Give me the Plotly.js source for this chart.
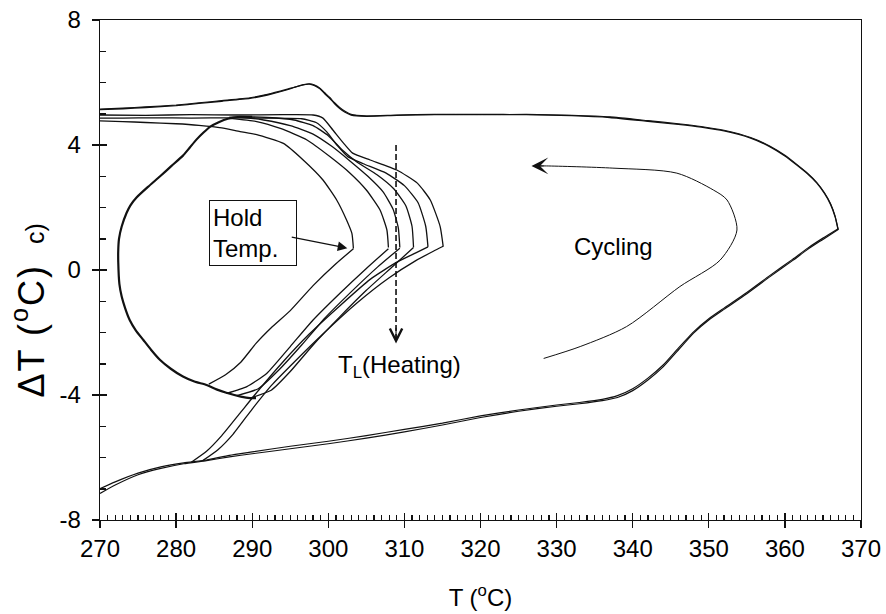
<!DOCTYPE html>
<html>
<head>
<meta charset="utf-8">
<script src="https://cdn.plot.ly/plotly-3.0.1.min.js"></script>
<style>html,body{margin:0;padding:0;background:#fff;}#chart{width:886px;height:614px;}</style>
</head>
<body>
<div id="chart"></div>
<script>
// ---- Outer cycle (heating to 367 °C, two passes) ----
const heatX  = [270, 272, 275, 278, 281, 284, 287, 290, 295, 300, 305, 310, 315, 320, 325, 330, 333, 336, 338, 340, 342, 344, 346, 348, 350, 352, 355, 358, 361, 363, 365, 367];
const heatY1 = [-7.15, -6.88, -6.55, -6.35, -6.2, -6.1, -5.98, -5.88, -5.72, -5.56, -5.38, -5.18, -4.96, -4.72, -4.52, -4.36, -4.28, -4.18, -4.08, -3.86, -3.52, -3.1, -2.56, -2.02, -1.6, -1.26, -0.76, -0.22, 0.3, 0.66, 0.98, 1.3];
const heatY2 = [-7.0, -6.78, -6.5, -6.3, -6.17, -6.08, -5.93, -5.82, -5.64, -5.48, -5.3, -5.1, -4.9, -4.67, -4.48, -4.32, -4.24, -4.14, -4.02, -3.8, -3.46, -3.04, -2.5, -1.98, -1.56, -1.22, -0.72, -0.18, 0.34, 0.7, 1.02, 1.32];
// ---- Outer cycle cooling (two passes) ----
const coolX  = [367, 366.6, 366, 365.2, 364.2, 363, 361.6, 360, 358, 355.5, 352, 349, 346, 342, 337, 332, 326, 320, 314, 309, 305, 303, 302.2, 301.5, 300.8, 300.2, 299.5, 298.9, 298.2, 297.5, 296.7, 295.5, 294.5, 292, 289.7, 286, 283, 280, 276, 273, 270];
const coolY1 = [1.28, 1.7, 2.1, 2.45, 2.78, 3.07, 3.35, 3.65, 3.95, 4.22, 4.45, 4.57, 4.66, 4.76, 4.88, 4.94, 4.97, 4.98, 4.97, 4.95, 4.92, 4.96, 5.05, 5.17, 5.33, 5.49, 5.65, 5.8, 5.9, 5.95, 5.93, 5.84, 5.76, 5.6, 5.49, 5.4, 5.33, 5.26, 5.2, 5.16, 5.13];
const coolY2 = [1.3, 1.72, 2.12, 2.47, 2.8, 3.09, 3.37, 3.67, 3.97, 4.24, 4.47, 4.59, 4.68, 4.78, 4.9, 4.95, 4.98, 4.97, 4.98, 4.96, 4.93, 4.98, 5.08, 5.2, 5.36, 5.52, 5.68, 5.82, 5.92, 5.96, 5.92, 5.85, 5.78, 5.62, 5.51, 5.42, 5.35, 5.28, 5.22, 5.18, 5.15];
// ---- Undercooling / recalescence loop ----
const circleX = [290, 288.4, 286.8, 285.6, 284.5, 283.6, 282.7, 281.8, 280.9, 279.4, 277.9, 276.3, 274.8, 274.0, 273.5, 272.85, 272.5, 272.4, 272.4, 272.55, 272.85, 273.3, 273.9, 274.7, 275.7, 276.7, 277.9, 279.3, 280.9, 282.4, 284, 285.3, 286.6, 288.5, 289.7, 290.5];
const circleY = [4.9, 4.9, 4.84, 4.73, 4.59, 4.4, 4.18, 3.92, 3.66, 3.33, 3.0, 2.66, 2.32, 2.07, 1.83, 1.39, 1.0, 0.64, 0.25, -0.45, -0.85, -1.22, -1.6, -1.93, -2.24, -2.55, -2.88, -3.16, -3.41, -3.57, -3.68, -3.82, -3.93, -4.05, -4.1, -4.1];
// ---- Hold-temperature loops: heating arcs (to hold temp) ----
const heatArc1X = [284.3, 286.5, 288.5, 290.5, 292.5, 295, 298, 301, 303.3];
const heatArc1Y = [-3.65, -3.35, -2.95, -2.35, -1.85, -1.3, -0.5, 0.2, 0.68];
const heatArc2X = [286.6, 289.3, 291.9, 295, 298, 301.5, 305, 307.9];
const heatArc2Y = [-3.95, -3.73, -3.31, -2.45, -1.6, -0.75, 0.05, 0.68];
const heatArc3X = [288, 290.8, 293.5, 296.5, 299.5, 303, 306.5, 309.4];
const heatArc3Y = [-4.02, -3.8, -3.2, -2.4, -1.55, -0.7, 0.1, 0.7];
const heatArc4X = [289.7, 292.5, 295, 298, 301.5, 305, 308.5, 311.2];
const heatArc4Y = [-4.1, -3.85, -3.25, -2.4, -1.5, -0.65, 0.12, 0.72];
const heatArc5X = [282, 284, 286, 288.5, 291, 294, 297.5, 301.5, 305.5, 309, 311.5, 313.1];
const heatArc5Y = [-6.15, -5.8, -5.3, -4.55, -3.8, -2.95, -2.05, -1.15, -0.3, 0.25, 0.55, 0.74];
const heatArc6X = [283.5, 285.5, 287.5, 290, 292.5, 295.5, 299.5, 303.8, 308, 311.5, 313.8, 315.1];
const heatArc6Y = [-6.1, -5.75, -5.25, -4.45, -3.7, -2.95, -2.0, -1.05, -0.25, 0.3, 0.6, 0.76];
// ---- Hold-temperature loops: cooling arcs (from hold temp) ----
const coolArc1X = [303.3, 303.1, 302.4, 301.1, 299.3, 296.7, 294.1, 290.6, 288.4, 286, 283, 280, 276, 273, 270];
const coolArc1Y = [0.69, 1.17, 1.6, 2.24, 2.88, 3.52, 4.05, 4.33, 4.43, 4.55, 4.63, 4.68, 4.72, 4.75, 4.77];
const coolArc2X = [307.9, 307.7, 306.8, 305, 302.9, 300.2, 297.2, 293.7, 290.6, 287.1];
const coolArc2Y = [0.72, 1.28, 1.92, 2.56, 3.09, 3.63, 4.16, 4.53, 4.75, 4.85];
const coolArc3X = [309.4, 309.2, 308.5, 307.2, 305.2, 302.8, 300.5, 298, 295, 291.5, 288.5, 287];
const coolArc3Y = [0.72, 1.35, 1.95, 2.5, 3.0, 3.5, 3.95, 4.35, 4.62, 4.8, 4.88, 4.88];
const coolArc4X = [311.2, 311, 310.2, 308.6, 306.4, 303.8, 301.8, 300, 298, 295.5, 292, 289, 287];
const coolArc4Y = [0.73, 1.4, 2.05, 2.6, 3.05, 3.45, 3.85, 4.3, 4.62, 4.8, 4.88, 4.9, 4.88];
const coolArc5X = [313.1, 312.8, 311.8, 310, 307.6, 304.6, 302.6, 301.2, 299.8, 298.4, 296.5, 292, 287, 282, 277, 273, 270];
const coolArc5Y = [0.74, 1.4, 2.15, 2.7, 3.1, 3.4, 3.62, 3.98, 4.42, 4.72, 4.84, 4.86, 4.87, 4.86, 4.87, 4.86, 4.86];
const coolArc6X = [315.1, 314.7, 313.4, 311.7, 309, 305.5, 303.2, 302, 300.6, 299.3, 298, 294, 288, 282, 276, 270];
const coolArc6Y = [0.75, 1.39, 2.24, 2.78, 3.2, 3.52, 3.74, 4.06, 4.48, 4.86, 4.96, 4.97, 4.96, 4.97, 4.95, 4.96];
// ---- "Cycling" guide arrow ----
const cyclingX = [328.3, 333.1, 339.2, 346.2, 351.5, 353.7, 352.4, 350.6, 345.8, 337.4, 328.7, 327.5];
const cyclingY = [-2.83, -2.45, -1.81, -0.53, 0.32, 1.28, 2.24, 2.56, 3.1, 3.26, 3.33, 3.33];
// ---- T_L (Heating) dashed arrow ----
const tlArrowX = [308.9, 308.9];
const tlArrowY = [4.0, -2.3];
// ---- Axis settings / tick labels ----
const xRange = [270, 370];
const yRange = [-8, 8];
const yTickVals = [-8, -4, 0, 4, 8];
const yTickText = ['-8', '-4', '0', '4', '8'];

const black = '#111111';
function line(x, y, w, extra) {
  return Object.assign({x: x, y: y, type: 'scatter', mode: 'lines', hoverinfo: 'skip', showlegend: false,
    line: {color: black, width: w, shape: 'spline', smoothing: 0.5}}, extra || {});
}
const traces = [
  line(heatX, heatY1, 1.2), line(heatX, heatY2, 1.2),
  line(coolX, coolY1, 1.3), line(coolX, coolY2, 1.1),
  line(circleX, circleY, 2.2),
  line(heatArc1X, heatArc1Y, 1.3), line(heatArc2X, heatArc2Y, 1.3), line(heatArc3X, heatArc3Y, 1.3),
  line(heatArc4X, heatArc4Y, 1.3), line(heatArc5X, heatArc5Y, 1.3), line(heatArc6X, heatArc6Y, 1.3),
  line(coolArc1X, coolArc1Y, 1.3), line(coolArc2X, coolArc2Y, 1.3), line(coolArc3X, coolArc3Y, 1.3),
  line(coolArc4X, coolArc4Y, 1.3), line(coolArc5X, coolArc5Y, 1.3), line(coolArc6X, coolArc6Y, 1.3),
  line(cyclingX, cyclingY, 1.0, {line: {color: black, width: 1.0, shape: 'spline', smoothing: 0.8}}),
  {x: tlArrowX, y: tlArrowY, type: 'scatter', mode: 'lines', hoverinfo: 'skip', showlegend: false,
   line: {color: black, width: 1.6, dash: '6px,3px'}},
  {x: [], y: [], xaxis: 'x2', yaxis: 'y', type: 'scatter', showlegend: false},
  {x: [], y: [], xaxis: 'x3', yaxis: 'y', type: 'scatter', showlegend: false},
  {x: [], y: [], xaxis: 'x', yaxis: 'y2', type: 'scatter', showlegend: false},
  {x: [], y: [], xaxis: 'x', yaxis: 'y3', type: 'scatter', showlegend: false}
];

const font = 'Arial, "Liberation Sans", Helvetica, sans-serif';
const axisCommon = {showgrid: false, zeroline: false, linecolor: black, linewidth: 1.3,
  tickcolor: black, tickwidth: 1.3, ticklen: 7, ticks: 'outside', tickfont: {family: font, size: 24, color: '#000'}};
function overlayAxis(base, range, dtick, len, w, side) {
  return {overlaying: base, anchor: base === 'x' ? 'y' : 'x', side: side, range: range,
    tickmode: 'linear', tick0: range[0], dtick: dtick, ticks: 'inside', ticklen: len, tickwidth: w, tickcolor: black,
    showticklabels: false, showline: false, showgrid: false, zeroline: false};
}

const layout = {
  width: 886, height: 614,
  margin: {l: 100, r: 25, t: 20, b: 94},
  paper_bgcolor: '#fff', plot_bgcolor: '#fff',
  font: {family: font, color: '#000'},
  xaxis: Object.assign({}, axisCommon, {
    range: xRange, tick0: 270, dtick: 10, showline: true, mirror: true,
    title: {text: 'T (<sup>o</sup>C)', font: {family: font, size: 24}, standoff: 28}
  }),
  yaxis: Object.assign({}, axisCommon, {
    range: yRange, tickmode: 'array', tickvals: yTickVals, ticktext: yTickText,
    showline: true, mirror: true, ticklabelstandoff: 6
  }),
  xaxis2: overlayAxis('x', xRange, 1, 5, 1.2, 'bottom'),
  xaxis3: overlayAxis('x', xRange, 10, 7, 1.3, 'bottom'),
  yaxis2: overlayAxis('y', yRange, 1, 6, 1.5, 'left'),
  yaxis3: overlayAxis('y', yRange, 4, 7, 1.5, 'left'),
  annotations: [
    {x: -0.094, y: 0.42, xref: 'paper', yref: 'paper', xanchor: 'center', yanchor: 'middle', textangle: -90,
     text: '<span style="letter-spacing:2px">ΔT (<sup>o</sup>C)</span>  <span style="font-size:25px">c)</span>',
     showarrow: false, font: {family: font, size: 36, color: '#000'}},
    {x: 284.3, y: 1.18, xref: 'x', yref: 'y', xanchor: 'left', yanchor: 'middle', align: 'left', width: 80,
     text: 'Hold<br>Temp.', showarrow: false, bordercolor: black, borderwidth: 1, borderpad: 3,
     bgcolor: '#fff', font: {family: font, size: 24, color: '#000'}},
    {x: 302.5, y: 0.7, xref: 'x', yref: 'y', ax: 295.0, ay: 1.06, axref: 'x', ayref: 'y',
     text: '', showarrow: true, arrowhead: 2, arrowsize: 1.6, arrowwidth: 1.2, arrowcolor: black},
    {x: 337.5, y: 0.75, xref: 'x', yref: 'y', text: 'Cycling', showarrow: false,
     font: {family: font, size: 24, color: '#000'}},
    {x: 326.7, y: 3.33, xref: 'x', yref: 'y', ax: 328.5, ay: 3.33, axref: 'x', ayref: 'y',
     text: '', showarrow: true, arrowhead: 3, arrowsize: 2.8, arrowwidth: 1, arrowcolor: black},
    {x: 309.4, y: -3.1, xref: 'x', yref: 'y', text: 'T<sub>L</sub>(Heating)', showarrow: false,
     font: {family: font, size: 24, color: '#000'}},
    {x: tlArrowX[1], y: tlArrowY[1] - 0.05, xref: 'x', yref: 'y', ax: tlArrowX[1], ay: tlArrowY[1] + 0.5, axref: 'x', ayref: 'y',
     text: '', showarrow: true, arrowhead: 5, arrowsize: 2.2, arrowwidth: 1.1, arrowcolor: black}
  ]
};

Plotly.newPlot('chart', traces, layout, {staticPlot: true, displayModeBar: false});
</script>
</body>
</html>
